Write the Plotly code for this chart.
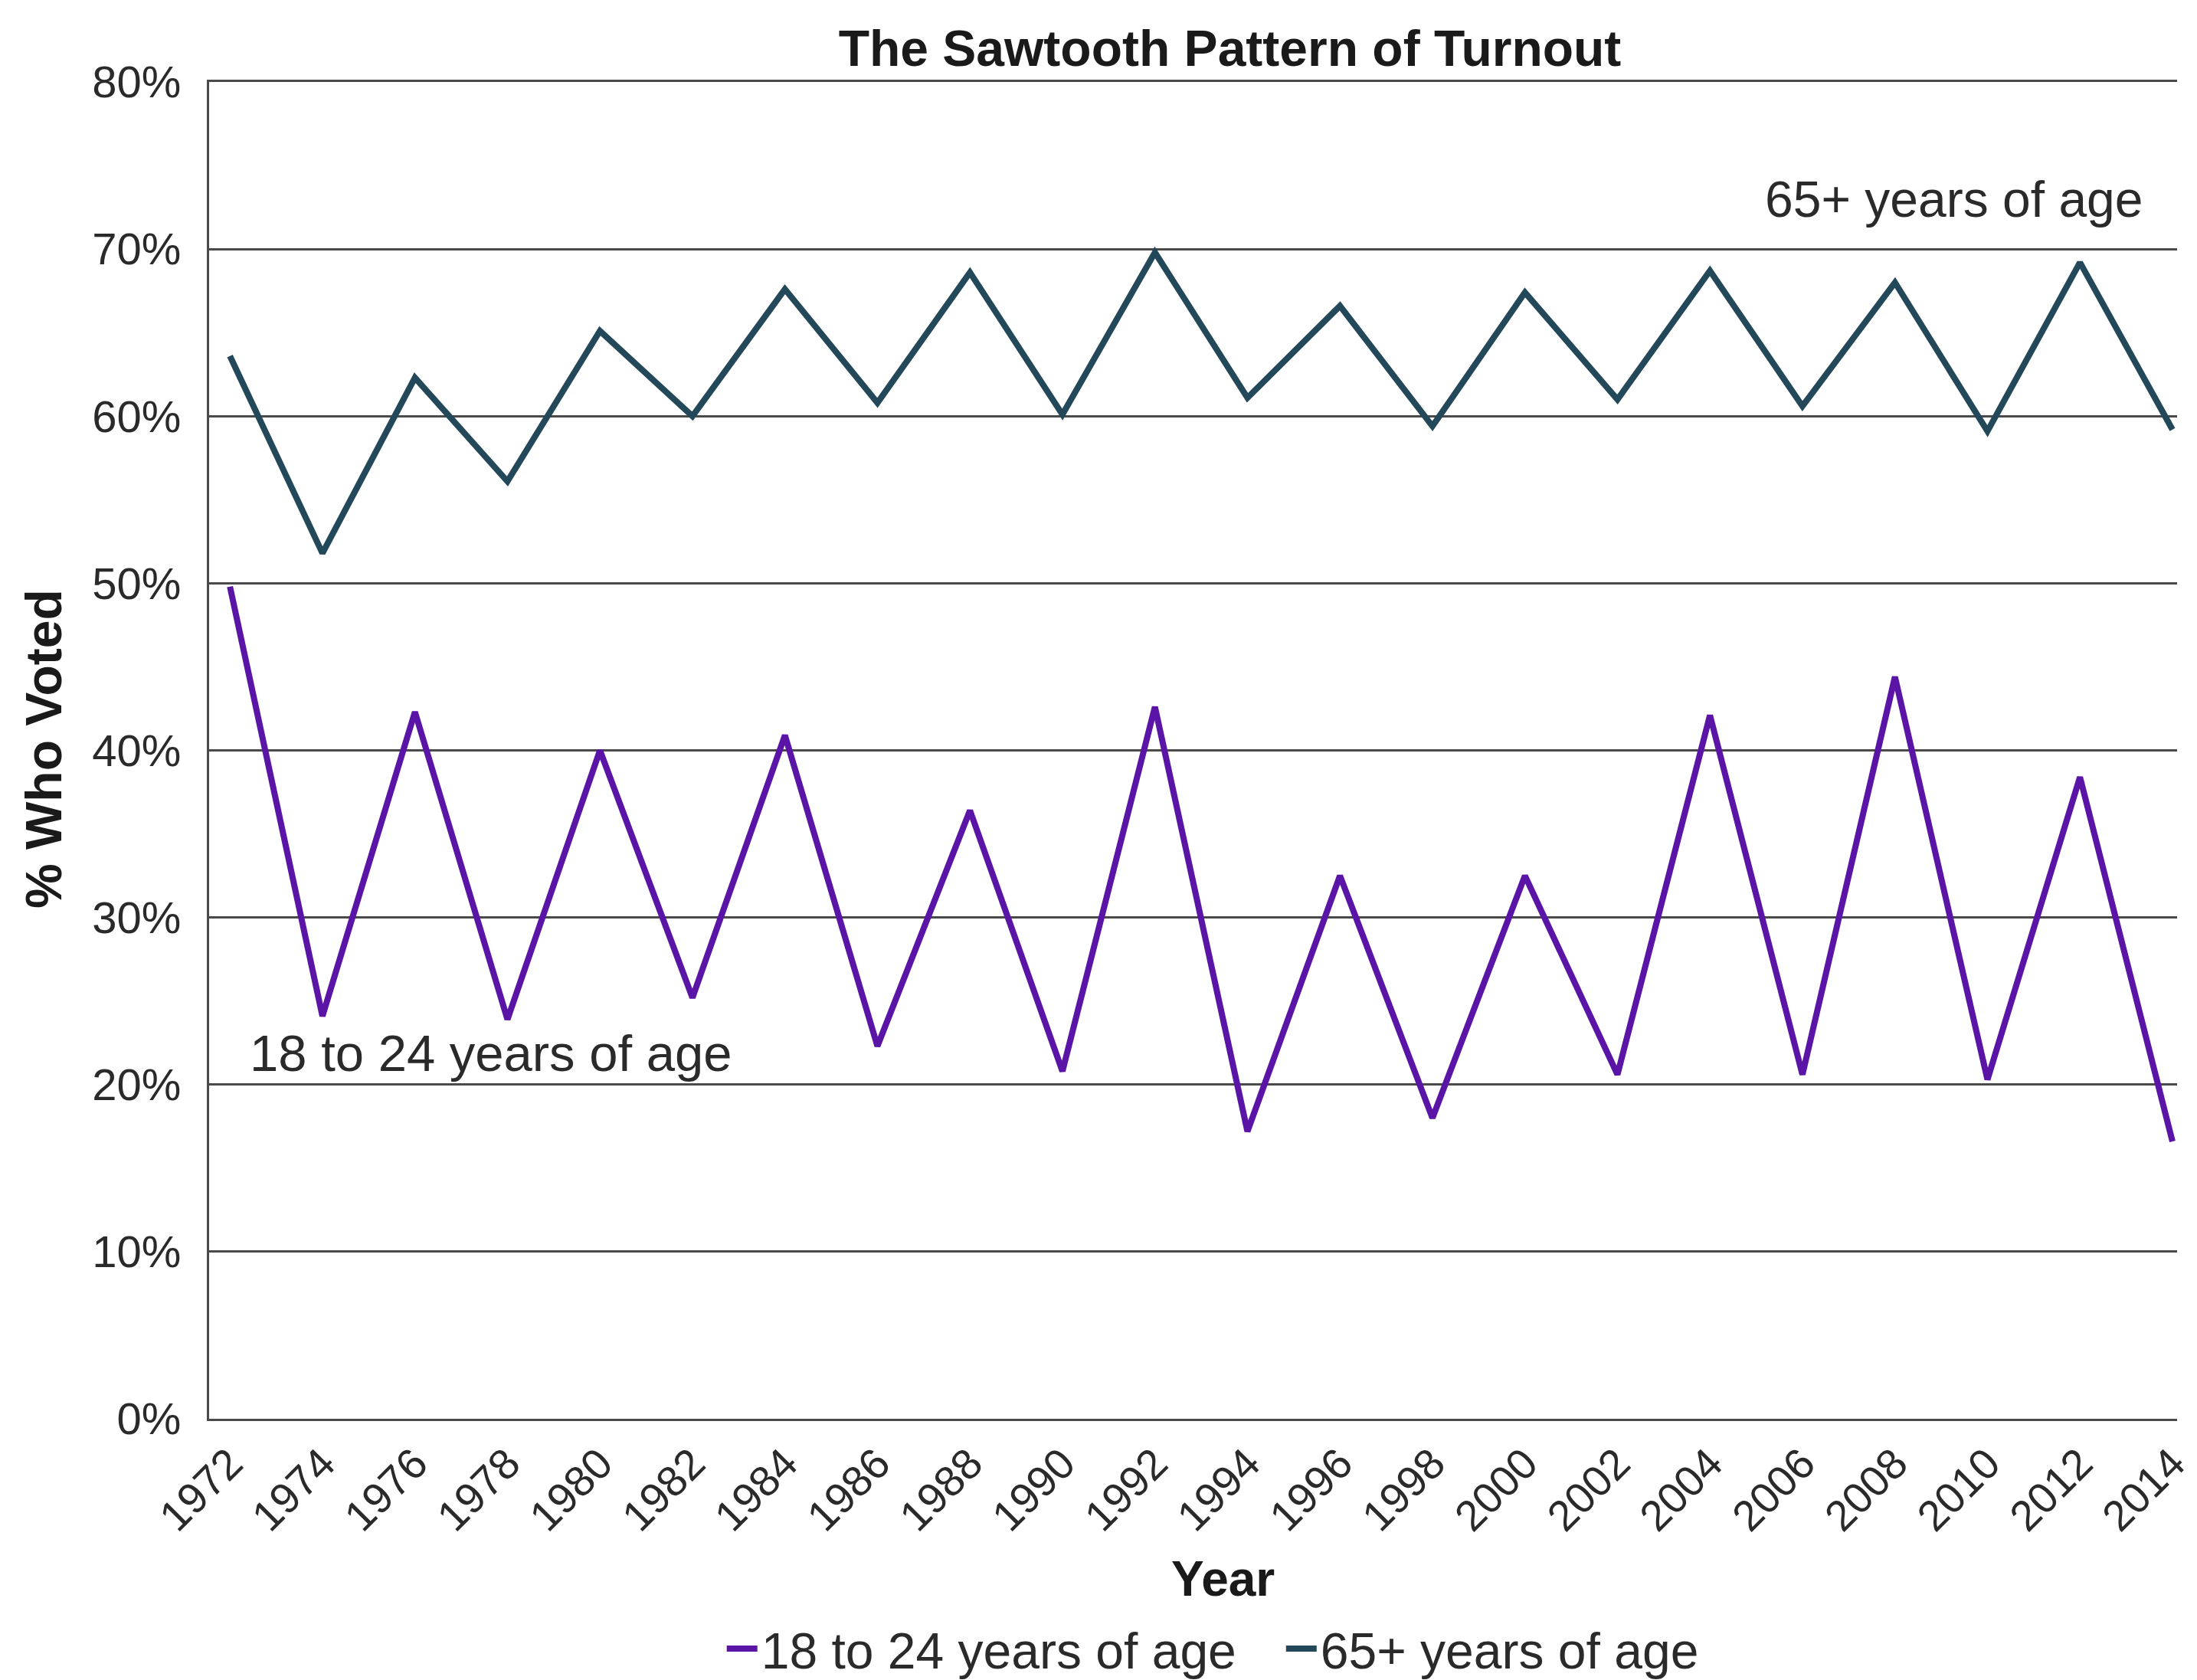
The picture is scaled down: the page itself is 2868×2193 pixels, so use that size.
import plotly.graph_objects as go

years = list(range(1972, 2015, 2))
year_labels = [str(y) for y in years]
young = [49.8, 24.1, 42.3, 23.9, 40.0, 25.2, 40.9, 22.3, 36.4, 20.8, 42.6, 17.2,
         32.5, 18.0, 32.5, 20.6, 42.1, 20.6, 44.4, 20.3, 38.4, 16.6]
old = [63.6, 51.8, 62.3, 56.1, 65.1, 60.0, 67.6, 60.8, 68.6, 60.1, 69.8, 61.1,
       66.6, 59.4, 67.4, 61.0, 68.7, 60.6, 68.0, 59.1, 69.2, 59.2]
y_ticks = [0, 10, 20, 30, 40, 50, 60, 70, 80]
y_tick_labels = [f"{v}%" for v in y_ticks]

FONT = "Liberation Sans"
PURPLE = "#5a14a6"
TEAL = "#23485a"
GRID = "#4a4a4a"

fig = go.Figure()
fig.add_trace(go.Scatter(x=years, y=young, mode="lines", name="18 to 24 years of age&nbsp;&nbsp;&nbsp;",
                         line=dict(color=PURPLE, width=8)))
fig.add_trace(go.Scatter(x=years, y=old, mode="lines", name="65+ years of age",
                         line=dict(color=TEAL, width=8)))

fig.update_layout(
    width=2868, height=2193,
    margin=dict(l=265, r=34, t=99, b=349, autoexpand=False),
    paper_bgcolor="white", plot_bgcolor="white",
    font=dict(family=FONT, size=56, color="#2a2a2a"),
    title=dict(text="<b>The Sawtooth Pattern of Turnout</b>", x=0.557, y=0.975,
               xanchor="center", yanchor="middle",
               font=dict(family=FONT, size=66, color="#1a1a1a")),
    showlegend=True,
    legend=dict(orientation="h", x=0.51, y=-0.172, xanchor="center", yanchor="middle",
                font=dict(family=FONT, size=66, color="#2a2a2a"),
                itemwidth=40, tracegroupgap=0, bgcolor="rgba(0,0,0,0)"),
    xaxis=dict(range=[1971.55, 2014.1], tickvals=years, ticktext=year_labels,
               tickangle=-45, showgrid=False, zeroline=False,
               showline=True, mirror=True, linecolor=GRID, linewidth=3,
               automargin=False,
               tickfont=dict(family=FONT, size=56, color="#2a2a2a"), ticks=""),
    yaxis=dict(range=[0, 80], tickvals=y_ticks, ticktext=y_tick_labels,
               showgrid=True, gridcolor=GRID, gridwidth=3,
               zeroline=False, showline=True, linecolor=GRID, linewidth=3,
               ticklabelstandoff=22, automargin=False,
               tickfont=dict(family=FONT, size=58, color="#2a2a2a"), ticks=""),
    annotations=[
        dict(text="65+ years of age", x=2013.4, y=73.0, xref="x", yref="y",
             xanchor="right", yanchor="middle", showarrow=False,
             font=dict(family=FONT, size=66, color="#2a2a2a")),
        dict(text="18 to 24 years of age", x=1972.4, y=21.9, xref="x", yref="y",
             xanchor="left", yanchor="middle", showarrow=False,
             font=dict(family=FONT, size=67, color="#2a2a2a")),
        dict(text="<b>Year</b>", x=0.515, y=-0.12, xref="paper", yref="paper",
             xanchor="center", yanchor="middle", showarrow=False,
             font=dict(family=FONT, size=64, color="#1a1a1a")),
        dict(text="<b>% Who Voted</b>", x=-0.084, y=0.501, xref="paper", yref="paper",
             xanchor="center", yanchor="middle", showarrow=False, textangle=-90,
             font=dict(family=FONT, size=66, color="#1a1a1a")),
    ],
)

fig.write_html("out.html")
